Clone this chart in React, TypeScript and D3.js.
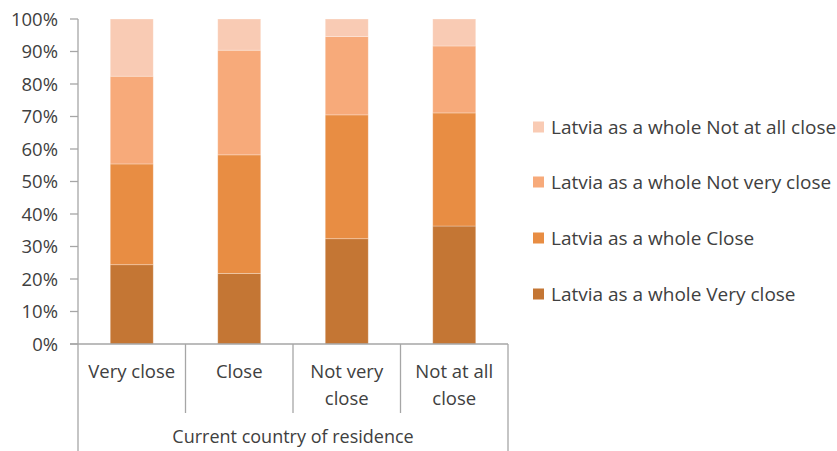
import React from "react";
import * as d3 from "d3";

const categories = ["Very close", "Close", "Not very close", "Not at all close"];
const categoryLines = [["Very close"], ["Close"], ["Not very", "close"], ["Not at all", "close"]];
const seriesNames = [
  "Latvia as a whole Very close",
  "Latvia as a whole Close",
  "Latvia as a whole Not very close",
  "Latvia as a whole Not at all close",
];
const veryClose = [24.4, 21.7, 32.4, 36.3];
const close = [31.0, 36.5, 38.1, 34.8];
const notVeryClose = [27.0, 32.2, 24.1, 20.6];
const notAtAllClose = [17.6, 9.6, 5.4, 8.3];
const yTicks = [0, 10, 20, 30, 40, 50, 60, 70, 80, 90, 100];
const axisTitle = "Current country of residence";

const colors = ["#C47634", "#E88D43", "#F7AA7A", "#F9CBB4"];
const FONT = "'Open Sans', sans-serif";
const TEXT = "#404040";
const AXIS = "#A6A6A6";

export default function App() {
  const W = 837, H = 451;
  const left = 78, right = 508, top = 19, bottom = 344;
  const x = d3.scaleBand<string>().domain(categories).range([left, right]).paddingInner(0).paddingOuter(0);
  const y = d3.scaleLinear().domain([0, 100]).range([bottom, top]);
  const seriesData = [veryClose, close, notVeryClose, notAtAllClose];
  const rows = categories.map((c, i) => {
    const o: any = { cat: c };
    seriesNames.forEach((s, j) => (o[s] = seriesData[j][i]));
    return o;
  });
  const stacked = d3.stack<any>().keys(seriesNames)(rows);
  const bw = x.bandwidth() * 0.4;
  const legendY = [294, 238, 182, 127];

  return (
    <svg width={W} height={H} style={{ position: "absolute", left: 0, top: 0, background: "#fff" }}>
      <rect x={0} y={0} width={W} height={H} fill="#fff" />
      {stacked.map((layer, j) => (
        <g key={j}>
          {layer.map((d, i) => {
            const cx = (x(categories[i]) as number) + x.bandwidth() / 2;
            const y1 = y(d[1]);
            const y0 = y(d[0]);
            return (
              <rect key={i} x={cx - bw / 2} y={y1} width={bw} height={y0 - y1}
                fill={colors[j]} stroke="#fff" strokeOpacity={0.35} strokeWidth={0.8} />
            );
          })}
        </g>
      ))}
      {/* y axis */}
      <line x1={left} x2={left} y1={top} y2={H} stroke={AXIS} strokeWidth={1.3} />
      {yTicks.map((t) => (
        <g key={t}>
          <line x1={left - 8} x2={left} y1={y(t)} y2={y(t)} stroke={AXIS} strokeWidth={1.3} />
          <text x={58} y={y(t)} dy="0.36em" textAnchor="end" fontFamily={FONT} fontSize={18.5} fill={TEXT}>
            {t}%
          </text>
        </g>
      ))}
      {/* x axis */}
      <line x1={left - 8} x2={right} y1={bottom} y2={bottom} stroke={AXIS} strokeWidth={1.3} />
      {categories.map((c, i) => {
        const x0 = x(c) as number;
        return i > 0 ? (
          <line key={c} x1={x0} x2={x0} y1={bottom} y2={413} stroke={AXIS} strokeWidth={1.3} />
        ) : null;
      })}
      <line x1={right} x2={right} y1={bottom} y2={H} stroke={AXIS} strokeWidth={1.3} />
      {categories.map((c, i) => {
        const cx = (x(c) as number) + x.bandwidth() / 2;
        return (
          <text key={c} x={cx} y={378} textAnchor="middle" fontFamily={FONT} fontSize={18.5} fill={TEXT}>
            {categoryLines[i].map((l, k) => (
              <tspan key={k} x={cx} dy={k === 0 ? 0 : 27}>{l}</tspan>
            ))}
          </text>
        );
      })}
      <text x={(left + right) / 2} y={443} textAnchor="middle" fontFamily={FONT} fontSize={18} fill={TEXT}>
        {axisTitle}
      </text>
      {/* legend */}
      {seriesNames.map((s, j) => (
        <g key={s}>
          <rect x={533} y={legendY[j] - 5.5} width={11} height={11} fill={colors[j]} />
          <text x={551} y={legendY[j]} dy="0.36em" fontFamily={FONT} fontSize={19} fill={TEXT}>
            {s}
          </text>
        </g>
      ))}
    </svg>
  );
}
